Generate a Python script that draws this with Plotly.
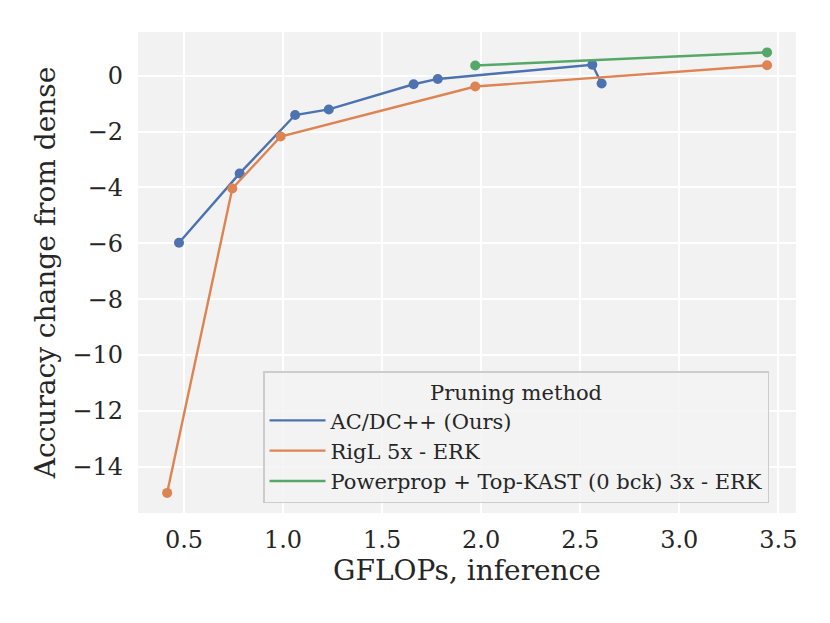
import plotly.graph_objects as go

acdc_x = [0.475, 0.781, 1.061, 1.231, 1.659, 1.781, 2.561, 2.608]
acdc_y = [-5.98, -3.50, -1.41, -1.21, -0.31, -0.12, 0.39, -0.28]

rigl_x = [0.415, 0.744, 0.988, 1.970, 3.443]
rigl_y = [-14.93, -4.04, -2.18, -0.39, 0.37]

pp_x = [1.970, 3.443]
pp_y = [0.36, 0.83]

names = ["AC/DC++ (Ours)", "RigL 5x - ERK", "Powerprop + Top-KAST (0 bck) 3x - ERK"]
colors = ["#4C72B0", "#DD8452", "#55A868"]

x_ticks = [0.5, 1.0, 1.5, 2.0, 2.5, 3.0, 3.5]
x_ticktext = ["0.5", "1.0", "1.5", "2.0", "2.5", "3.0", "3.5"]
y_ticks = [0, -2, -4, -6, -8, -10, -12, -14]
y_ticktext = ["0", "\u22122", "\u22124", "\u22126", "\u22128", "\u221210", "\u221212", "\u221214"]

FONT = "DejaVu Serif"
fig = go.Figure()
for xs, ys, n, c in zip([acdc_x, rigl_x, pp_x], [acdc_y, rigl_y, pp_y], names, colors):
    fig.add_trace(go.Scatter(x=xs, y=ys, mode="lines+markers", showlegend=False,
                             line=dict(color=c, width=2.4), marker=dict(color=c, size=10)))
for n, c in zip(names, colors):
    fig.add_trace(go.Scatter(x=[None], y=[None], mode="lines", name=n,
                             line=dict(color=c, width=2.4)))

fig.update_layout(
    width=830, height=623,
    margin=dict(l=130, r=42, t=24, b=118),
    paper_bgcolor="white", plot_bgcolor="#F2F2F2",
    font=dict(family=FONT, size=24, color="#262626"),
    xaxis=dict(range=[0.268, 3.589], tickvals=x_ticks, ticktext=x_ticktext,
               showgrid=True, gridcolor="white", gridwidth=1.8, zeroline=False,
               showline=False, ticks="", tickfont=dict(size=24), ticklabelstandoff=10,
               title=dict(text="GFLOPs, inference", font=dict(size=28), standoff=6)),
    yaxis=dict(range=[-15.65, 1.56], tickvals=y_ticks, ticktext=y_ticktext,
               showgrid=True, gridcolor="white", gridwidth=1.8, zeroline=False,
               showline=False, ticks="", tickfont=dict(size=24), ticklabelstandoff=14,
               title=dict(text="Accuracy change from dense", font=dict(size=28), standoff=8)),
    legend=dict(x=0.959, y=0.02, xanchor="right", yanchor="bottom",
                bgcolor="rgba(242,242,242,0.8)", bordercolor="#CCCCCC", borderwidth=1.5,
                font=dict(size=21), tracegroupgap=0, itemwidth=56,
                title=dict(text="Pruning method", side="top center", font=dict(size=21))),
)
fig.write_html("out.html")
